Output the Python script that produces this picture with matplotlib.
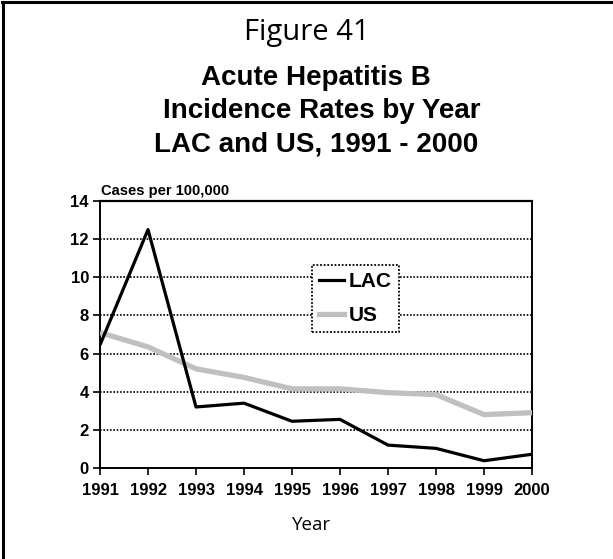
import matplotlib
matplotlib.use("Agg")
import matplotlib.pyplot as plt
from matplotlib.lines import Line2D

years = [1991, 1992, 1993, 1994, 1995, 1996, 1997, 1998, 1999, 2000]
lac = [6.45, 12.5, 3.2, 3.4, 2.45, 2.55, 1.2, 1.03, 0.38, 0.72]
us = [7.1, 6.35, 5.2, 4.75, 4.15, 4.15, 3.95, 3.85, 2.8, 2.9]
yticks = [0, 2, 4, 6, 8, 10, 12, 14]

W, H = 613, 559
fig = plt.figure(figsize=(W / 100, H / 100), dpi=100)

# page frame (top and left edges only)
fig.add_artist(Line2D([2 / W, 1], [1 - 2 / H, 1 - 2 / H], color="black", lw=2.2,
                      transform=fig.transFigure))
fig.add_artist(Line2D([3 / W, 3 / W], [0, 1 - 2 / H], color="black", lw=2.2,
                      transform=fig.transFigure))

fig.text(307 / W, 1 - 40 / H, "Figure 41", ha="center", va="baseline",
         fontsize=21, family="Open Sans")
bold = dict(ha="center", va="baseline", fontsize=20, fontweight="bold",
            family="Liberation Sans")
fig.text(316 / W, 1 - 85 / H, "Acute Hepatitis B", **bold)
fig.text(322 / W, 1 - 118 / H, "Incidence Rates by Year", **bold)
fig.text(316 / W, 1 - 151 / H, "LAC and US, 1991 - 2000", **bold)

x0, x1, y0, y1 = 100, 532, 468, 201
ax = fig.add_axes([x0 / W, 1 - y0 / H, (x1 - x0) / W, (y0 - y1) / H])

ax.plot(years, us, color="#c0c0c0", lw=3.8, solid_capstyle="butt", label="US", zorder=3)
ax.plot(years, lac, color="black", lw=2.3, solid_capstyle="butt", label="LAC", zorder=4)

ax.set_xlim(1991, 2000)
ax.set_ylim(0, 14)
ax.set_xticks(years)
ax.set_yticks(yticks)
ax.tick_params(direction="out", length=5, width=1.2, color="black", pad=3)
ax.tick_params(axis="x", pad=6)
for lab in ax.get_xticklabels() + ax.get_yticklabels():
    lab.set_fontweight("bold")
    lab.set_fontsize(12)
    lab.set_family("Liberation Sans")

ax.grid(axis="y", color="black", lw=1.2, linestyle=(0, (1, 1)))
ax.set_axisbelow(True)
for side in ["left", "right", "bottom"]:
    ax.spines[side].set_linestyle((0, (1, 1)))
    ax.spines[side].set_linewidth(1.4)
ax.spines["top"].set_linewidth(1.6)

fig.text(101 / W, 1 - 195 / H, "Cases per 100,000", ha="left", va="baseline",
         fontsize=10.5, fontweight="bold", family="Liberation Sans")
fig.text(312 / W, 1 - 530 / H, "Year", ha="center", va="baseline",
         fontsize=13.5, family="Open Sans")

handles = [Line2D([], [], color="black", lw=2.3), Line2D([], [], color="#c0c0c0", lw=3.8)]
leg = ax.legend(handles, ["LAC", "US"], loc="upper left",
                bbox_to_anchor=((312 - x0) / (x1 - x0), (y0 - 265) / (y0 - y1)),
                borderaxespad=0, fancybox=False, framealpha=1, edgecolor="black",
                handlelength=1.2, handletextpad=0.2, borderpad=0.35, labelspacing=0.7,
                prop={"family": "Liberation Sans", "weight": "bold", "size": 15})
leg.get_frame().set_linestyle((0, (1, 1)))
leg.get_frame().set_linewidth(1.3)
leg.set_zorder(5)

fig.savefig("out.png", dpi=100, facecolor="white")
